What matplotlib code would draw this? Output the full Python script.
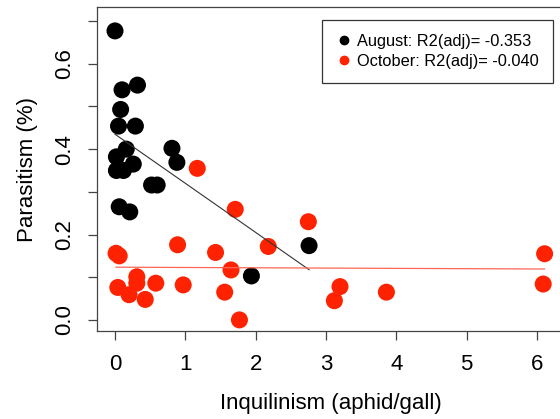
import matplotlib.pyplot as plt
import numpy as np
from matplotlib.lines import Line2D

plt.rcParams['font.family'] = ['Liberation Sans', 'DejaVu Sans']

# August samples
aug_x = [0.00, 0.10, 0.32, 0.08, 0.05, 0.29, 0.16, 0.81, 0.88, 0.02,
         0.26, 0.02, 0.12, 0.52, 0.60, 0.06, 0.21, 2.76, 1.94]
aug_y = [0.677, 0.539, 0.550, 0.493, 0.454, 0.454, 0.400, 0.402, 0.369, 0.382,
         0.365, 0.350, 0.350, 0.316, 0.316, 0.265, 0.253, 0.174, 0.103]

# October samples
oct_x = [1.17, 1.71, 2.75, 2.18, 0.89, 1.43, 0.015, 0.06, 1.65, 0.31, 0.31, 0.04,
         0.58, 0.97, 0.20, 0.43, 1.56, 1.77, 3.20, 3.12, 3.86, 6.11, 6.09]
oct_y = [0.355, 0.259, 0.230, 0.172, 0.176, 0.158, 0.156, 0.150, 0.117, 0.101, 0.086, 0.076,
         0.086, 0.082, 0.059, 0.048, 0.065, 0.000, 0.078, 0.045, 0.065, 0.155, 0.084]

# linear fits (intercept, slope)
aug_fit = (0.435, -0.115)
oct_fit = (0.1235, -0.0007)

aug_label = 'August: R2(adj)= -0.353'
oct_label = 'October: R2(adj)= -0.040'

red = '#ff2200'

fig = plt.figure(figsize=(5.6, 4.19), dpi=100)
ax = fig.add_axes([97 / 560, 1 - 331 / 419, (565 - 97) / 560, (331 - 7) / 419])

ax.scatter(aug_x, aug_y, s=150, c='black', edgecolors='none', zorder=3)
ax.scatter(oct_x, oct_y, s=150, c=red, edgecolors='none', zorder=3)

xa = np.array([min(aug_x), max(aug_x)])
ax.plot(xa, aug_fit[0] + aug_fit[1] * xa, color='#333333', lw=0.8, zorder=4)
xo = np.array([min(oct_x), max(oct_x)])
ax.plot(xo, oct_fit[0] + oct_fit[1] * xo, color='#ff6655', lw=0.9, zorder=4)

ax.set_xlim(-0.256, 6.40)
ax.set_ylim(-0.026, 0.733)
ax.set_xticks(range(0, 7))
ax.set_yticks(np.arange(0, 0.71, 0.1))
ax.set_yticklabels(['0.0', '', '0.2', '', '0.4', '', '0.6', ''])

for s in ['left', 'bottom', 'top']:
    ax.spines[s].set_color('#444444')
    ax.spines[s].set_linewidth(0.9)
ax.spines['right'].set_visible(False)

ax.tick_params(axis='both', direction='out', length=6.5, width=0.9, color='#444444',
               labelsize=16)
ax.tick_params(axis='x', pad=10)
ax.tick_params(axis='y', pad=9)
for lab in ax.get_yticklabels():
    lab.set_rotation(90)
    lab.set_va('center')

ax.set_xlabel('Inquilinism (aphid/gall)', fontsize=16, labelpad=13)
ax.set_ylabel('Parasitism (%)', fontsize=16, labelpad=12)

handles = [Line2D([], [], ls='none', marker='o', ms=6, color='black'),
           Line2D([], [], ls='none', marker='o', ms=6, color=red)]
leg = ax.legend(handles, [aug_label, oct_label], loc='upper right',
                bbox_to_anchor=(553 / 560, 1 - 20 / 419), bbox_transform=fig.transFigure,
                fontsize=11.8, frameon=True, fancybox=False, edgecolor='black',
                handletextpad=0.3, handlelength=1.0, borderpad=0.85, labelspacing=0.3,
                borderaxespad=0)
leg.get_frame().set_linewidth(0.9)

fig.savefig('out.png', dpi=100)
